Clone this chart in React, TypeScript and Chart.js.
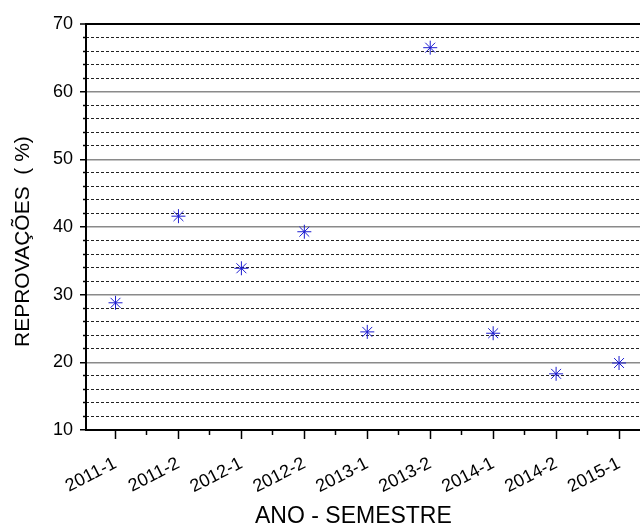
import { useEffect, useRef } from 'react';
import { Chart, registerables } from 'chart.js';

Chart.register(...registerables);

const categories = ['2011-1', '2011-2', '2012-1', '2012-2', '2013-1', '2013-2', '2014-1', '2014-2', '2015-1'];
const reprovacoes = [28.8, 41.6, 33.9, 39.3, 24.5, 66.5, 24.3, 18.3, 19.9];
const yMajorTicks = [10, 20, 30, 40, 50, 60, 70];
const yMinorTicks = [12, 14, 16, 18, 22, 24, 26, 28, 32, 34, 36, 38, 42, 44, 46, 48, 52, 54, 56, 58, 62, 64, 66, 68];
const xMajorTicks = [1, 2, 3, 4, 5, 6, 7, 8, 9];
const xMinorTicks = [1.5, 2.5, 3.5, 4.5, 5.5, 6.5, 7.5, 8.5];

const FONT = "'Liberation Sans', Arial, sans-serif";
const NB = '\u00a0';

export default function App() {
  const ref = useRef<HTMLCanvasElement | null>(null);

  useEffect(() => {
    if (!ref.current) return;
    Chart.defaults.font.family = FONT;
    const X_MIN = 0.531;
    const X_MAX = 9.333;
    const noPad = (s: any, h: number | null, w: number | null) => {
      if (h !== null) s.height = h;
      if (w !== null) s.width = w;
      s.paddingRight = 0;
      s.paddingLeft = 0;
      if (s._margins) {
        s._margins.right = 0;
      }
    };
    const chart = new Chart(ref.current, {
      type: 'scatter',
      data: {
        datasets: [
          {
            data: reprovacoes.map((v, i) => ({ x: i + 1, y: v })),
            xAxisID: 'x',
            yAxisID: 'y',
            pointStyle: 'star',
            pointRadius: 7,
            pointHoverRadius: 7,
            pointBorderWidth: 1,
            borderColor: '#1c1cd0',
            backgroundColor: '#1c1cd0',
            showLine: false,
          },
        ],
      },
      options: {
        animation: false,
        responsive: true,
        maintainAspectRatio: false,
        layout: { autoPadding: false, padding: { top: 24, right: 0, bottom: 0, left: 0 } },
        plugins: { legend: { display: false }, tooltip: { enabled: false } },
        scales: {
          y: {
            type: 'linear',
            position: 'left',
            min: 10,
            max: 70,
            weight: 1,
            afterBuildTicks: (s: any) => {
              s.ticks = yMajorTicks.map((v) => ({ value: v }));
            },
            afterFit: (s: any) => {
              s.width = 86;
            },
            ticks: { font: { family: FONT, size: 18 }, color: '#000', padding: 7 },
            grid: {
              color: (ctx: any) => (ctx.tick && ctx.tick.value === 70 ? '#000' : '#8a8a8a'),
              lineWidth: (ctx: any) => (ctx.tick && ctx.tick.value === 70 ? 2 : 1.5),
              tickLength: 6,
              tickColor: '#000',
              tickWidth: 1.5,
            },
            border: { color: '#000', width: 2 },
            title: {
              display: true,
              text: 'REPROVAÇÕES  ( %)' + NB.repeat(5),
              font: { family: FONT, size: 21 },
              color: '#000',
              padding: { top: 11, bottom: 0 },
            },
          },
          y2: {
            type: 'linear',
            position: 'left',
            min: 10,
            max: 70,
            weight: 0,
            afterBuildTicks: (s: any) => {
              s.ticks = yMinorTicks.map((v) => ({ value: v }));
            },
            afterFit: (s: any) => {
              s.width = 0;
            },
            ticks: { display: false },
            grid: {
              color: '#222',
              lineWidth: 1,
              tickLength: 3,
              tickColor: '#000',
              tickWidth: 1.5,
            },
            border: { display: false, dash: [3, 2] },
          },
          x: {
            type: 'linear',
            position: 'bottom',
            min: X_MIN,
            max: X_MAX,
            weight: 1,
            afterBuildTicks: (s: any) => {
              s.ticks = xMajorTicks.map((v) => ({ value: v }));
            },
            afterFit: (s: any) => noPad(s, 100, null),
            ticks: {
              callback: (v: any) => categories[Math.round(Number(v)) - 1] ?? '',
              autoSkip: false,
              minRotation: 27,
              maxRotation: 27,
              font: { family: FONT, size: 18 },
              color: '#000',
              padding: 14,
            },
            grid: { drawOnChartArea: false, tickLength: 9, tickColor: '#000', tickWidth: 1.5 },
            border: { color: '#000', width: 2 },
            title: {
              display: true,
              text: 'ANO - SEMESTRE' + NB.repeat(3),
              font: { family: FONT, size: 23 },
              color: '#000',
              padding: { top: 0, bottom: 0 },
            },
          },
          x2: {
            type: 'linear',
            position: 'bottom',
            min: X_MIN,
            max: X_MAX,
            weight: 0,
            afterBuildTicks: (s: any) => {
              s.ticks = xMinorTicks.map((v) => ({ value: v }));
            },
            afterFit: (s: any) => noPad(s, 0, null),
            ticks: { display: false },
            grid: { drawOnChartArea: false, tickLength: 5, tickColor: '#000', tickWidth: 1.5 },
            border: { display: false },
          },
        },
      },
    } as any);
    return () => chart.destroy();
  }, []);

  return (
    <div style={{ position: 'fixed', left: 0, top: 0, width: 640, height: 530, background: '#fff' }}>
      <canvas ref={ref} />
    </div>
  );
}
